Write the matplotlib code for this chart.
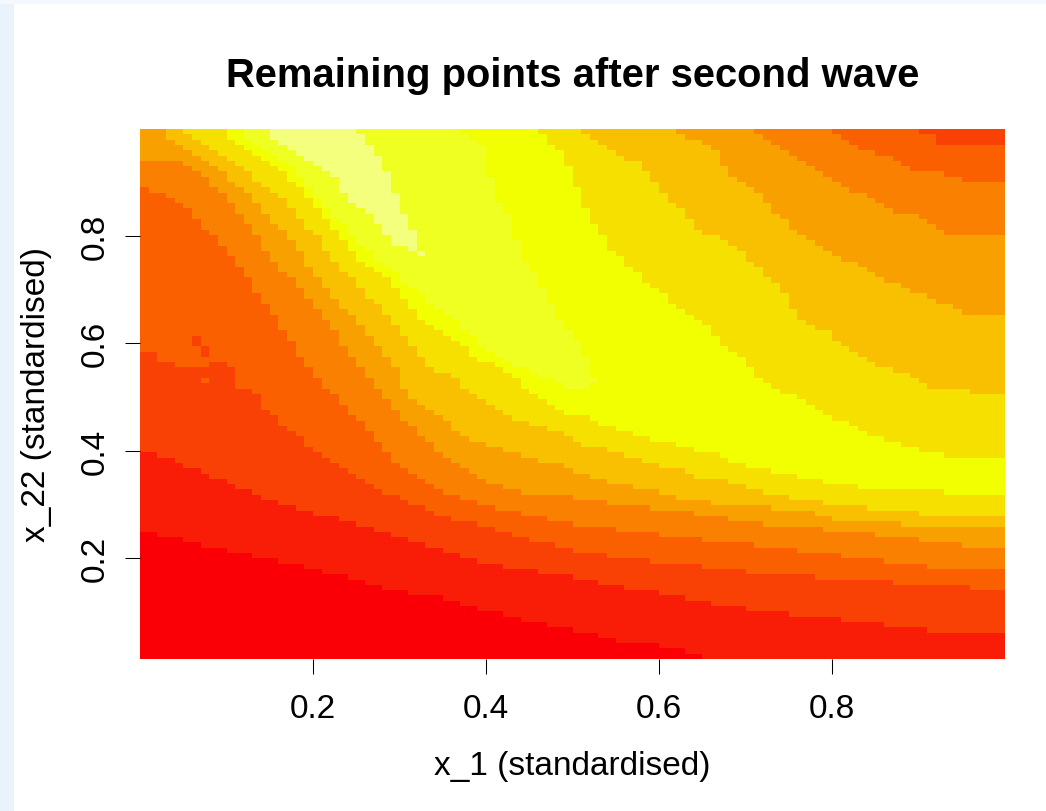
import numpy as np
import matplotlib
matplotlib.use("Agg")
import matplotlib.pyplot as plt
from matplotlib.path import Path
from matplotlib.colors import ListedColormap, BoundaryNorm
from matplotlib.patches import Rectangle

# ---------------- data ----------------
title = "Remaining points after second wave"
x_label = "x_1 (standardised)"
y_label = "x_22 (standardised)"
x_ticks = [0.2, 0.4, 0.6, 0.8]
y_ticks = [0.2, 0.4, 0.6, 0.8]
tick_labels = ["0.2", "0.4", "0.6", "0.8"]

# heat-colour levels (1 = red ... 11 = pale yellow)
level_colors = ["#FA0006", "#F91D07", "#F94105", "#FB6000", "#F98000",
                "#F7A000", "#F8C000", "#F5E000", "#F2FF00", "#F0FF22", "#F4FF7E"]

# lower boundaries: level rises above k when y passes b_k(x)
b1_x = [0, .05, .1, .15, .2, .25, .3, .35, .4, .45, .5, .55, .6, .65, .7, 1.0]
b1_y = [.254, .232, .215, .197, .181, .159, .139, .125, .102, .081, .068, .047, .037, .018, -.02, -.05]

grid_x = [0, .05, .1, .15, .2, .25, .3, .35, .4, .45, .5, .55, .6, .65, .7, .75, .8, .85, .9, .95, 1.0]
b2_y = [.403, .375, .339, .310, .285, .2645, .240, .216, .192, .176, .165, .1465, .137, .117, .105,
        .0955, .088, .077, .068, .0595, .0595]
b3_x = [0, .02, .021, .04, .041, .08, .081, .1, .101, .11, .111, .135, .15, .2, .25, .3, .35, .4, .45,
        .5, .55, .6, .65, .7, .75, .8, .85, .9, .95, 1.0]
b3_y = [.580, .580, .565, .565, .552, .552, .565, .565, .555, .555, .522, .505, .471, .403, .350, .310,
        .279, .257, .235, .2136, .201, .193, .184, .175, .167, .163, .156, .153, .1465, .137]
b4_y = [.897, .855, .776, .664, .543, .462, .372, .322, .2955, .279, .263, .254, .243, .234, .225,
        .217, .2055, .196, .1856, .176, .176]

b5_x = [0.0, 0.042, 0.062, 0.083, 0.097, 0.128, 0.155, 0.193, 0.222, 0.251, 0.282, 0.30, 0.35, 0.40,
        0.45, 0.50, 0.55, 0.60, 0.65, 0.70, 0.75, 0.80, 0.85, 0.90, 0.95, 1.0]
b5_y = [0.943, 0.943, 0.925, 0.897, 0.875, 0.813, 0.751, 0.689, 0.627, 0.565, 0.5055, 0.463, 0.3925,
        0.344, 0.319, 0.313, 0.3005, 0.291, 0.282, 0.266, 0.259, 0.252, 0.2434, 0.235, 0.223, 0.215]

b6_x = [0.022, 0.031, 0.042, 0.051, 0.072, 0.082, 0.092, 0.102, 0.112, 0.122, 0.132, 0.151, 0.161,
        0.172, 0.182, 0.191, 0.201, 0.211, 0.222, 0.232, 0.241, 0.251, 0.263, 0.272, 0.282, 0.292,
        0.301, 0.311, 0.320, 0.331, 0.341, 0.351, 0.361, 0.371, 0.380, 0.401, 0.421, 0.440, 0.461,
        0.490, 0.498, 0.520, 0.540, 0.571, 0.600, 0.620, 0.640, 0.730, 0.780, 0.799, 0.869, 0.970, 1.0]
b6_y = [1.0, 0.987, 0.975, 0.965, 0.945, 0.934, 0.925, 0.906, 0.894, 0.884, 0.866, 0.825, 0.813,
        0.797, 0.785, 0.748, 0.726, 0.707, 0.689, 0.670, 0.659, 0.639, 0.620, 0.602, 0.580, 0.565,
        0.527, 0.5055, 0.490, 0.481, 0.471, 0.462, 0.443, 0.432, 0.422, 0.412, 0.403, 0.392, 0.3825,
        0.373, 0.364, 0.353, 0.343, 0.333, 0.3235, 0.314, 0.305, 0.294, 0.284, 0.274, 0.2645, 0.254,
        0.254]

b7_x = [0.051, 0.062, 0.072, 0.082, 0.092, 0.102, 0.112, 0.122, 0.132, 0.141, 0.151, 0.161, 0.172,
        0.181, 0.191, 0.201, 0.211, 0.222, 0.232, 0.241, 0.251, 0.261, 0.270, 0.282, 0.292, 0.301,
        0.311, 0.320, 0.331, 0.341, 0.361, 0.371, 0.380, 0.390, 0.401, 0.411, 0.421, 0.430, 0.450,
        0.471, 0.490, 0.498, 0.510, 0.540, 0.561, 0.580, 0.600, 0.630, 0.640, 0.679, 0.700, 0.720,
        0.750, 0.780, 0.839, 0.899, 0.949, 1.0]
b7_y = [1.0, 0.984, 0.975, 0.965, 0.956, 0.945, 0.934, 0.925, 0.906, 0.897, 0.884, 0.875, 0.857,
        0.838, 0.819, 0.807, 0.788, 0.757, 0.738, 0.726, 0.707, 0.689, 0.679, 0.661, 0.639, 0.620,
        0.602, 0.583, 0.5645, 0.552, 0.540, 0.521, 0.5055, 0.499, 0.490, 0.481, 0.471, 0.462, 0.451,
        0.443, 0.432, 0.422, 0.412, 0.403, 0.392, 0.3825, 0.373, 0.364, 0.353, 0.343, 0.333, 0.3235,
        0.314, 0.305, 0.294, 0.284, 0.274, 0.274]

b8_x = [0.092, 0.102, 0.112, 0.122, 0.132, 0.141, 0.151, 0.161, 0.172, 0.181, 0.191, 0.201, 0.211,
        0.222, 0.232, 0.241, 0.251, 0.261, 0.270, 0.282, 0.292, 0.301, 0.311, 0.320, 0.331, 0.341,
        0.361, 0.371, 0.380, 0.390, 0.411, 0.421, 0.430, 0.440, 0.451, 0.461, 0.471, 0.480, 0.490,
        0.498, 0.520, 0.531, 0.550, 0.571, 0.590, 0.620, 0.640, 0.670, 0.679, 0.700, 0.730, 0.759,
        0.789, 0.829, 0.919, 1.0]
b8_y = [1.0, 0.987, 0.975, 0.965, 0.956, 0.945, 0.934, 0.925, 0.906, 0.897, 0.875, 0.857, 0.837,
        0.816, 0.797, 0.779, 0.757, 0.748, 0.735, 0.726, 0.707, 0.689, 0.670, 0.652, 0.639, 0.627,
        0.611, 0.599, 0.580, 0.571, 0.561, 0.552, 0.540, 0.521, 0.5055, 0.499, 0.490, 0.481, 0.471,
        0.468, 0.461, 0.451, 0.4415, 0.432, 0.422, 0.412, 0.403, 0.392, 0.3825, 0.373, 0.364, 0.353,
        0.343, 0.333, 0.3235, 0.314]

b9_x = [0.113, 0.122, 0.131, 0.142, 0.151, 0.160, 0.172, 0.181, 0.191, 0.201, 0.211, 0.2225, 0.232,
        0.241, 0.251, 0.261, 0.270, 0.282, 0.292, 0.301, 0.310, 0.321, 0.330, 0.339, 0.351, 0.361,
        0.371, 0.380, 0.390, 0.399, 0.411, 0.420, 0.431, 0.461, 0.480, 0.490, 0.519, 0.529]
b9_y = [1.0, 0.984, 0.975, 0.966, 0.956, 0.945, 0.934, 0.915, 0.897, 0.874, 0.856, 0.840, 0.8245,
        0.807, 0.789, 0.776, 0.763, 0.748, 0.735, 0.723, 0.707, 0.696, 0.679, 0.668, 0.655, 0.645,
        0.632, 0.620, 0.602, 0.589, 0.580, 0.570, 0.559, 0.541, 0.529, 0.520, 0.520, 0.522]

b10_x = [0.142, 0.151, 0.160, 0.172, 0.182, 0.191, 0.201, 0.211, 0.2225, 0.232, 0.240, 0.251, 0.261,
         0.270, 0.282, 0.292, 0.310, 0.321, 0.329]
b10_y = [1.0, 0.984, 0.975, 0.966, 0.956, 0.943, 0.934, 0.925, 0.915, 0.8875, 0.874, 0.856, 0.846,
         0.826, 0.807, 0.789, 0.776, 0.767, 0.766]

# upper boundaries: level falls back to k when y passes u_k(x)
u3_x = [0.890, 0.919, 0.925, 1.0]
u3_y = [1.0, 0.984, 0.9745, 0.9745]
u4_x = [0.789, 0.810, 0.820, 0.829, 0.849, 0.869, 0.879, 0.890, 0.929, 0.949, 0.989, 1.0]
u4_y = [1.0, 0.984, 0.973, 0.964, 0.955, 0.943, 0.934, 0.925, 0.9155, 0.904, 0.895, 0.900]
u5_x = [0.709, 0.720, 0.730, 0.740, 0.750, 0.759, 0.769, 0.780, 0.789, 0.799, 0.810, 0.820, 0.839,
        0.849, 0.859, 0.869, 0.899, 0.919, 0.929, 0.959, 1.0]
u5_y = [1.0, 0.984, 0.973, 0.964, 0.955, 0.943, 0.934, 0.925, 0.9155, 0.904, 0.895, 0.886, 0.875,
        0.866, 0.855, 0.846, 0.835, 0.816, 0.8055, 0.800, 0.8055]
u6_x = [0.620, 0.630, 0.650, 0.660, 0.670, 0.672, 0.679, 0.690, 0.710, 0.720, 0.730, 0.740, 0.750,
        0.759, 0.769, 0.780, 0.789, 0.799, 0.810, 0.829, 0.839, 0.849, 0.859, 0.879, 0.890, 0.909,
        0.919, 0.939, 0.949, 0.969, 1.0]
u6_y = [1.0, 0.984, 0.973, 0.964, 0.955, 0.934, 0.9155, 0.904, 0.886, 0.866, 0.855, 0.837, 0.826,
        0.806, 0.796, 0.787, 0.778, 0.766, 0.757, 0.748, 0.737, 0.727, 0.718, 0.709, 0.698, 0.689,
        0.679, 0.668, 0.659, 0.650, 0.650]
u7_x = [0.510, 0.520, 0.531, 0.540, 0.550, 0.561, 0.580, 0.590, 0.600, 0.610, 0.620, 0.630, 0.640,
        0.650, 0.670, 0.679, 0.690, 0.700, 0.710, 0.720, 0.730, 0.740, 0.750, 0.759, 0.769, 0.780,
        0.799, 0.810, 0.820, 0.829, 0.839, 0.849, 0.869, 0.890, 0.899, 0.909, 0.949, 0.989, 1.0]
u7_y = [1.0, 0.984, 0.973, 0.964, 0.955, 0.943, 0.934, 0.9155, 0.895, 0.875, 0.8565, 0.847, 0.825,
        0.807, 0.797, 0.787, 0.778, 0.757, 0.748, 0.737, 0.718, 0.698, 0.679, 0.650, 0.640, 0.6285,
        0.619, 0.599, 0.589, 0.580, 0.571, 0.560, 0.551, 0.541, 0.530, 0.521, 0.512, 0.502, 0.502]
u8_x = [0.461, 0.471, 0.480, 0.490, 0.498, 0.500, 0.510, 0.520, 0.531, 0.540, 0.550, 0.561, 0.571,
        0.580, 0.590, 0.600, 0.610, 0.620, 0.630, 0.640, 0.650, 0.660, 0.670, 0.679, 0.690, 0.700,
        0.710, 0.720, 0.730, 0.740, 0.750, 0.759, 0.769, 0.780, 0.789, 0.799, 0.820, 0.829, 0.839,
        0.859, 0.879, 0.899, 0.929, 1.0]
u8_y = [1.0, 0.9745, 0.965, 0.945, 0.925, 0.906, 0.866, 0.837, 0.807, 0.788, 0.766, 0.748, 0.737,
        0.718, 0.709, 0.698, 0.679, 0.668, 0.659, 0.650, 0.640, 0.620, 0.600, 0.589, 0.580, 0.561,
        0.541, 0.530, 0.521, 0.512, 0.503, 0.5005, 0.491, 0.481, 0.471, 0.461, 0.451, 0.4415, 0.432,
        0.422, 0.412, 0.403, 0.392, 0.3825]
u9_x = [0.3705, 0.380, 0.390, 0.402, 0.405, 0.411, 0.420, 0.431, 0.441, 0.451, 0.461, 0.471, 0.480,
        0.490, 0.500, 0.509, 0.519, 0.529]
u9_y = [1.0, 0.984, 0.973, 0.963, 0.906, 0.875, 0.853, 0.817, 0.766, 0.738, 0.720, 0.682, 0.658,
        0.638, 0.619, 0.595, 0.556, 0.524]
u10_x = [0.251, 0.261, 0.271, 0.282, 0.291, 0.301, 0.310, 0.321, 0.329]
u10_y = [1.0, 0.981, 0.958, 0.934, 0.900, 0.846, 0.826, 0.785, 0.766]

# small isolated specks: (x0, x1, y0, y1, level)
specks = [(0.060, 0.070, 0.598, 0.611, 3), (0.070, 0.080, 0.578, 0.598, 3),
          (0.070, 0.080, 0.530, 0.540, 4), (0.140, 0.150, 0.4765, 0.488, 4)]

lower_bounds = [(b1_x, b1_y), (grid_x, b2_y), (b3_x, b3_y), (grid_x, b4_y), (b5_x, b5_y),
                (b6_x, b6_y), (b7_x, b7_y), (b8_x, b8_y), (b9_x, b9_y), (b10_x, b10_y)]
upper_bounds = [None, None, (u3_x, u3_y), (u4_x, u4_y), (u5_x, u5_y), (u6_x, u6_y),
                (u7_x, u7_y), (u8_x, u8_y), (u9_x, u9_y), (u10_x, u10_y)]


def region_path(lo, up):
    lx, ly = lo
    v = []
    v.append((lx[0], 1.2) if lx[0] > 0 else (-0.1, ly[0]))
    v += list(zip(lx, ly))
    if lx[-1] >= 1:
        v.append((1.1, ly[-1]))
    if up is None:
        v += [(1.1, 1.2), (-0.1, 1.2)]
    else:
        ux, uy = up
        if ux[-1] >= 1:
            v.append((1.1, uy[-1]))
        v += list(zip(ux, uy))[::-1]
        if ux[0] > 0:
            v.append((ux[0], 1.2))
        if lx[0] <= 0:
            v.append((-0.1, 1.2))
    v.append(v[0])
    return Path(v, closed=True)


# image grid (cell resolution of the original image plot)
x_edges = np.linspace(0.0, 1.0, 101)
y_edges = np.linspace(0.0117, 0.9993, 101)
xc = 0.5 * (x_edges[:-1] + x_edges[1:])
yc = 0.5 * (y_edges[:-1] + y_edges[1:])
XX, YY = np.meshgrid(xc, yc)
pts = np.column_stack([XX.ravel(), YY.ravel()])
level = np.ones(XX.shape, dtype=int)
for lo, up in zip(lower_bounds, upper_bounds):
    level += region_path(lo, up).contains_points(pts).reshape(XX.shape)
for x0, x1, y0, y1, lev in specks:
    level[(XX > x0) & (XX < x1) & (YY > y0) & (YY < y1)] = lev

# ---------------- figure ----------------
W, H = 1046, 812
fig = plt.figure(figsize=(W / 100, H / 100), dpi=100)
fig.patch.set_facecolor("white")
fig.patches.append(Rectangle((0, 0), 14 / W, 1, transform=fig.transFigure,
                             facecolor="#EAF3FB", edgecolor="none", zorder=0))
fig.patches.append(Rectangle((0, 1 - 5 / H), 1, 5 / H, transform=fig.transFigure,
                             facecolor="#F5F9FD", edgecolor="none", zorder=0))

ax = fig.add_axes([140 / W, 1 - 660 / H, 865 / W, 530 / H])
cmap = ListedColormap(level_colors)
norm = BoundaryNorm(np.arange(0.5, len(level_colors) + 1.5, 1), cmap.N)
ax.pcolormesh(x_edges, y_edges, level, cmap=cmap, norm=norm, shading="flat",
              antialiased=False, rasterized=True)
ax.set_xlim(x_edges[0], x_edges[-1])
ax.set_ylim(y_edges[0], y_edges[-1])

fam = ["Liberation Sans", "DejaVu Sans"]
for s in ax.spines.values():
    s.set_visible(False)

ax.set_xticks(x_ticks)
ax.set_xticklabels(tick_labels, fontsize=24, family=fam)
ax.set_yticks(y_ticks)
ax.set_yticklabels(tick_labels, fontsize=24, family=fam, rotation=90, va="center")
ax.tick_params(axis="x", direction="out", length=10.8, width=0.75, pad=13.7)
ax.tick_params(axis="y", direction="out", length=10.8, width=0.75, pad=10)

fig.text(572.5 / W, 1 - 87 / H, title, ha="center", va="baseline", fontsize=28.8,
         fontweight="bold", family=fam)
fig.text(572.5 / W, 1 - 767 / H, x_label, ha="center", va="center", fontsize=24, family=fam)
fig.text(37 / W, 1 - 395 / H, y_label, ha="center", va="center", rotation=90,
         fontsize=24, family=fam)

fig.savefig("out.png", dpi=100)
